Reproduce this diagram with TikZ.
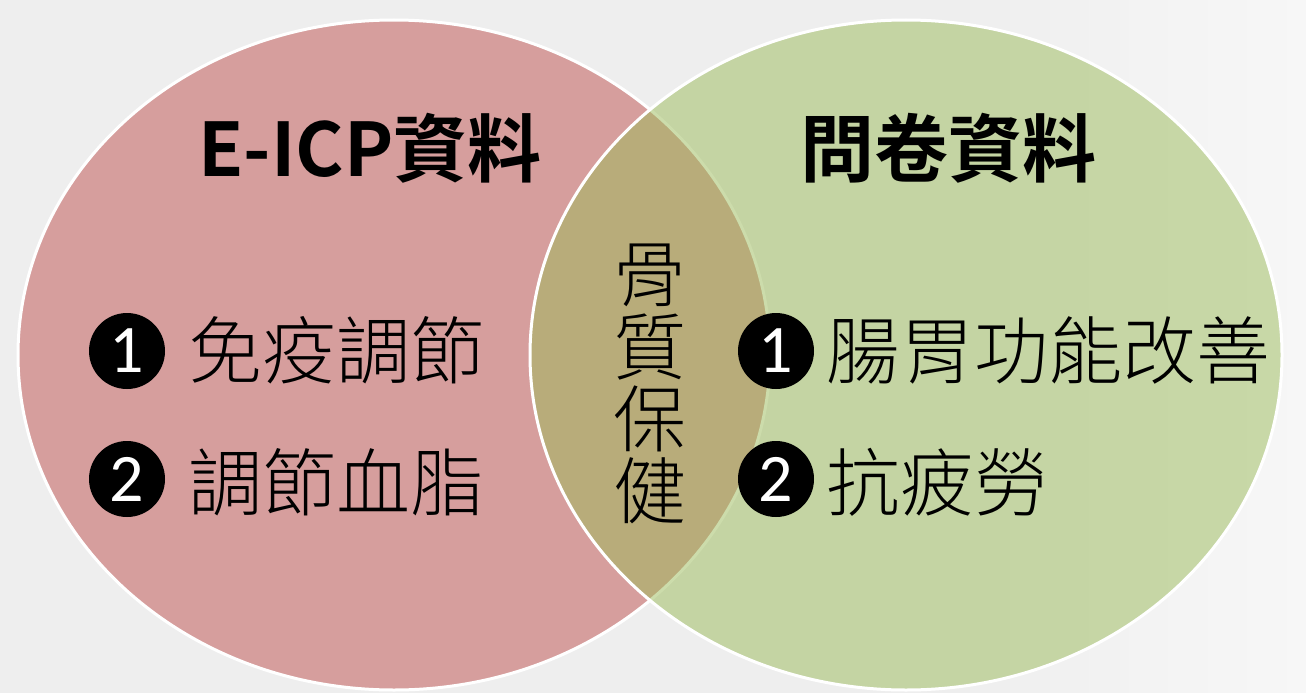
\documentclass[tikz,border=0pt]{standalone}
\usepackage{fontspec}
\usetikzlibrary{shapes.geometric}
\newfontfamily\cjk{Noto Sans CJK TC}[BoldFont={Noto Sans CJK TC Bold}]
\newfontfamily\cjklight{Noto Sans CJK TC Light}
\newfontfamily\numfont{Carlito}
\definecolor{bgA}{HTML}{EEEEEE}
\definecolor{bgB}{HTML}{F7F7F7}
\definecolor{redc}{HTML}{C0504D}
\definecolor{greenc}{HTML}{9BBB59}
\tikzset{
  setcircle/.style={ellipse, draw=white, line width=3pt, fill opacity=0.5,
    draw opacity=1, minimum width=752pt, minimum height=670pt, inner sep=0pt},
  titletext/.style={inner sep=0pt, font=\cjk\bfseries\fontsize{74}{74}\selectfont},
  itemtext/.style={inner sep=0pt, anchor=west, font=\cjklight\fontsize{74}{74}\selectfont},
  midtext/.style={inner sep=0pt, font=\cjklight\fontsize{73}{73}\selectfont},
  numdot/.style={circle, fill=black, minimum size=76pt, inner sep=0pt,
    text=white, font=\numfont\fontsize{68}{68}\selectfont}
}
\begin{document}
\begin{tikzpicture}[x=1pt,y=-1pt]
\useasboundingbox (0,0) rectangle (1306,693);
\fill[bgA] (0,0) rectangle (1306,693);
\shade[left color=bgA, right color=bgB] (950,0) rectangle (1306,693);
\node[setcircle, fill=redc] (L) at (394,355) {};
\node[setcircle, fill=greenc] (R) at (906,355) {};
\node[titletext] (t1) at (370,148) {E-ICP資料};
\node[titletext] (t2) at (948,148) {問卷資料};
\node[numdot] (n1) at (127,351) {1};
\node[itemtext] (a1) at (188,350) {免疫調節};
\node[numdot] (n2) at (127,479) {2};
\node[itemtext] (a2) at (188,482) {調節血脂};
\node[numdot] (n3) at (776,351) {1};
\node[itemtext] (b1) at (826,350) {腸胃功能改善};
\node[numdot] (n4) at (776,479) {2};
\node[itemtext] (b2) at (826,482) {抗疲勞};
\node[midtext] (m1) at (650,275) {骨};
\node[midtext] (m2) at (650,347) {質};
\node[midtext] (m3) at (650,419) {保};
\node[midtext] (m4) at (650,491) {健};
\end{tikzpicture}
\end{document}
